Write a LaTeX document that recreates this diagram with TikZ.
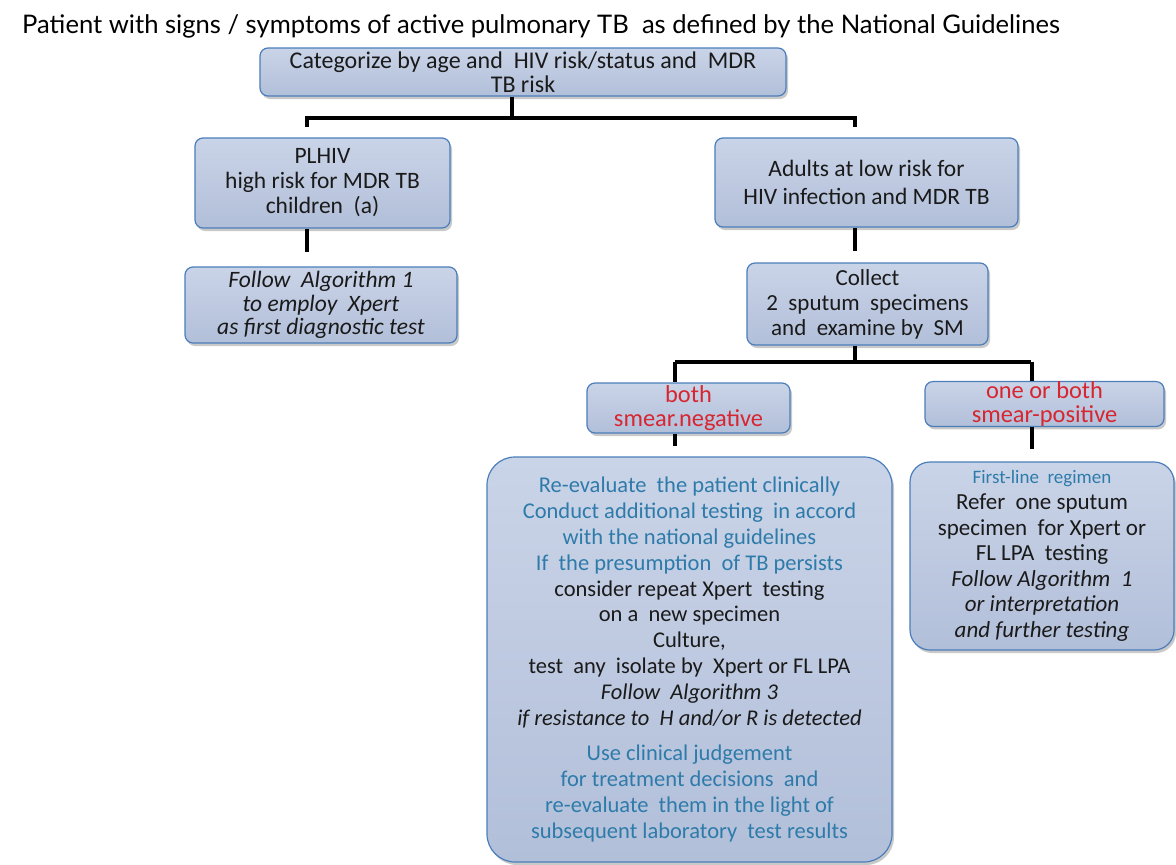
\documentclass[tikz,border=0pt]{standalone}
\usepackage{fontspec}
\setmainfont{Carlito}
\newfontfamily\titlefont{Lato}
\usetikzlibrary{shadows}
\definecolor{boxtop}{HTML}{CAD4E8}
\definecolor{boxbot}{HTML}{B2BFD9}
\definecolor{boxline}{HTML}{4A7EBB}
\definecolor{bluetext}{HTML}{2E7BAA}
\definecolor{redtext}{HTML}{D7262F}
\definecolor{darktext}{HTML}{1A1A1A}
\tikzset{
  box/.style={rounded corners=8pt, draw=boxline, line width=1.2pt,
    top color=boxtop, bottom color=boxbot,
    drop shadow={shadow xshift=2pt, shadow yshift=-3pt, opacity=0.35, fill=black!60},
    align=center, inner sep=0pt, text=darktext,
    font=\fontsize{23.5}{25}\selectfont},
  bigbox/.style={box, rounded corners=28pt, font=\fontsize{22.5}{25.8}\selectfont},
  rightbox/.style={box, rounded corners=20pt, font=\fontsize{23}{25.6}\selectfont},
  conn/.style={line width=4pt, black},
}
\begin{document}
\begin{tikzpicture}[x=1pt,y=-1pt]
\useasboundingbox (0,0) rectangle (1176,865);
\fill[white] (0,0) rectangle (1176,865);

\node[anchor=base west, inner sep=0pt, font=\titlefont\fontsize{25.6}{30}\selectfont] (title) at (22,33)
  {Patient with signs / symptoms of active pulmonary TB\ \ as defined by the National Guidelines};

\node[box, minimum width=526pt, minimum height=48pt, font=\fontsize{24}{24}\selectfont] (cat) at (523,72)
  {Categorize by age and\ \ HIV risk/status\ and\ \ MDR\\TB risk};

\node[box, minimum width=255pt, minimum height=90pt, font=\fontsize{23.5}{25}\selectfont] (plhiv) at (322.5,183)
  {PLHIV\\high risk for MDR TB\\children\ \ (a)};

\node[box, minimum width=272pt, minimum height=76pt, font=\itshape\fontsize{23.5}{23.5}\selectfont] (follow) at (321,305)
  {Follow\ \ Algorithm 1\\to employ\ \ Xpert\\as first diagnostic test};

\node[box, minimum width=303pt, minimum height=89pt, font=\fontsize{23.5}{28}\selectfont] (adults) at (866.5,182.5)
  {Adults at low risk for\\HIV infection and MDR TB};

\node[box, minimum width=241pt, minimum height=82pt, font=\fontsize{23}{25}\selectfont] (collect) at (867.5,304)
  {Collect\\2\ \ sputum\ \ specimens\\and\ \ examine by\ \ SM};

\node[box, minimum width=203pt, minimum height=50pt, text=redtext, font=\fontsize{24.4}{24}\selectfont] (neg) at (688.5,408)
  {both\\smear.negative};

\node[box, minimum width=239pt, minimum height=42pt, text=redtext, font=\fontsize{24.4}{24}\selectfont] (pos) at (1044.5,404)
  {one or both\\smear-positive};

\node[bigbox, minimum width=405pt, minimum height=405pt] (big) at (689.5,659.5)
  {\textcolor{bluetext}{Re-evaluate\ \ the patient clinically}\\
   \textcolor{bluetext}{Conduct additional testing\ \ in accord}\\
   \textcolor{bluetext}{with the national guidelines}\\
   \textcolor{bluetext}{If\ \ the presumption\ \ of TB persists}\\
   consider repeat Xpert\ \ testing\\
   on a\ \ new specimen\\
   Culture,\\
   test\ \ any\ \ isolate by\ \ Xpert or FL LPA\\
   \textit{Follow\ \ Algorithm 3}\\
   \textit{if resistance to\ \ H and/or R is detected}\\[10pt]
   \textcolor{bluetext}{Use clinical judgement}\\
   \textcolor{bluetext}{for treatment decisions\ \ and}\\
   \textcolor{bluetext}{re-evaluate\ \ them in the light of}\\
   \textcolor{bluetext}{subsequent laboratory\ \ test results}};

\node[rightbox, minimum width=264pt, minimum height=188pt] (right) at (1042,556)
  {\textcolor{bluetext}{\fontsize{19}{20}\selectfont First-line\ \ regimen}\\
   Refer\ \ one sputum\\
   specimen\ \ for Xpert or\\
   FL LPA\ \ testing\\
   \textit{Follow Algorithm\ \ 1}\\
   \textit{or interpretation}\\
   \textit{and further testing}};

% connectors
\coordinate (j1) at (512,118);
\coordinate (s1) at (307,0);
\coordinate (s2) at (855,0);
\coordinate (j2) at (855,362);
\coordinate (s3) at (675,0);
\coordinate (s4) at (1032,0);

\draw[conn] (j1 |- cat.south) -- (j1);
\draw[conn, shorten >=10pt] (j1) -| (s1 |- plhiv.north);
\draw[conn, shorten >=10pt] (j1) -| (s2 |- adults.north);
\draw[conn, shorten >=14pt] (s1 |- plhiv.south) -- (s1 |- follow.north);
\draw[conn, shorten >=11pt] (s2 |- adults.south) -- (s2 |- collect.north);
\draw[conn] (j2 |- collect.south) -- (j2);
\draw[conn, shorten >=1pt] (s3 |- j2) -- (s4 |- j2);
\draw[conn] (s3 |- j2) -- (s3 |- neg.north);
\draw[conn] (s4 |- j2) -- (s4 |- pos.north);
\draw[conn, shorten >=10pt] (s3 |- neg.south) -- (s3 |- big.north);
\draw[conn, shorten >=12pt] (s4 |- pos.south) -- (s4 |- right.north);
\end{tikzpicture}
\end{document}
